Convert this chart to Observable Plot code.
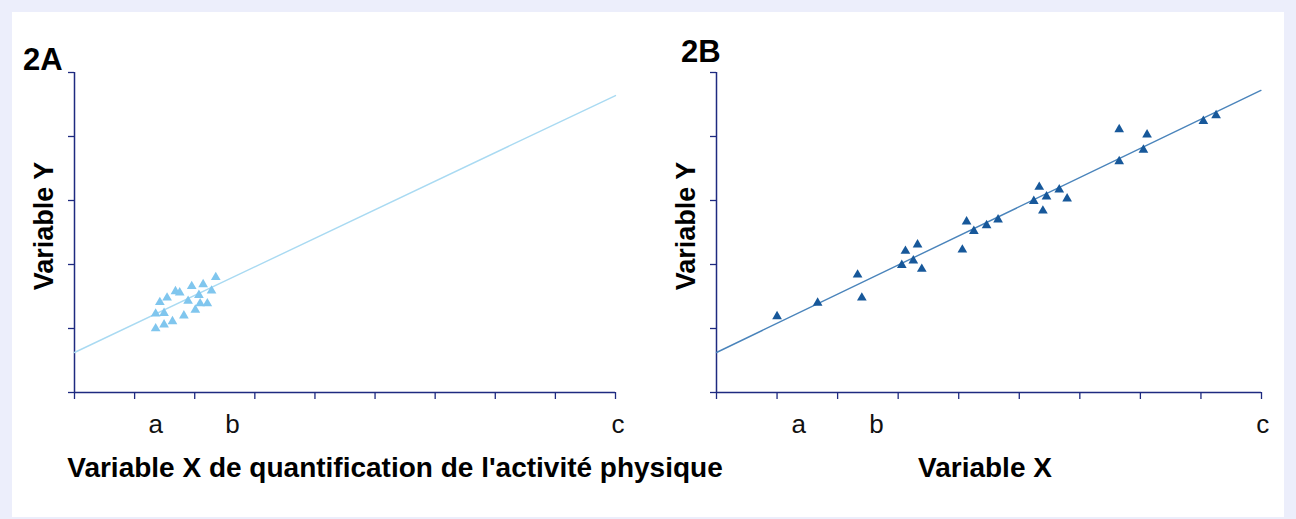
<!DOCTYPE html>
<html>
<head>
<meta charset="utf-8">
<script src="https://cdn.jsdelivr.net/npm/d3@7"></script>
<script src="https://cdn.jsdelivr.net/npm/@observablehq/plot@0.6"></script>
<style>
  html, body { margin: 0; padding: 0; }
  body { width: 1296px; height: 519px; background: #eceefb; position: relative; overflow: hidden; font-family: "Liberation Sans", Arial, sans-serif; }
  #frame { position: absolute; left: 12px; top: 12px; width: 1272px; height: 505px; background: #fff; }
  .panel { position: absolute; top: 0; }
  #overlay { position: absolute; left: 0; top: 0; }
</style>
</head>
<body>
<div id="frame"></div>
<div id="pa" class="panel" style="left:0px"></div>
<div id="pb" class="panel" style="left:648px"></div>
<svg id="overlay" width="1296" height="519"></svg>
<script>
// ---- data ----
const xTicks = [0, 1, 2, 3, 4, 5, 6, 7, 8, 9];
const yTicks = [0, 1, 2, 3, 4, 5];
const tickLabels = ["a", "b", "c"];
const tickLabelPosA = [1.35, 2.63, 9.04];
const tickLabelPosB = [1.36, 2.64, 9.02];

const ax = [2.35, 2.14, 1.95, 2.28, 1.68, 1.75, 2.07, 1.54, 1.42, 1.89, 2.09, 2.21, 2.01, 1.35, 1.49, 1.82, 1.63, 1.49, 1.35];
const ay = [1.80, 1.69, 1.66, 1.59, 1.58, 1.56, 1.52, 1.48, 1.41, 1.43, 1.39, 1.39, 1.29, 1.23, 1.24, 1.20, 1.11, 1.06, 1.00];
const lineAx = [0, 9];
const lineAy = [0.625, 4.64];

const bx = [1.00, 1.67, 2.33, 2.40, 3.12, 3.32, 3.06, 3.25, 3.39, 4.06, 4.13, 4.25, 4.46, 4.65, 6.65, 7.11, 7.05, 6.65, 8.04, 8.25, 5.33, 5.24, 5.45, 5.66, 5.79, 5.39];
const by = [1.19, 1.40, 1.84, 1.48, 2.21, 2.31, 1.99, 2.06, 1.93, 2.23, 2.67, 2.52, 2.61, 2.70, 4.11, 4.03, 3.79, 3.61, 4.24, 4.33, 3.21, 2.99, 3.06, 3.17, 3.03, 2.84];
const lineBx = [0, 8.99];
const lineBy = [0.625, 4.72];

const navy = "#1e2a80";
const font = "'Liberation Sans', Arial, sans-serif";

function panel({px, py, lx, ly, labelPos, dotColor, lineColor, lineWidth, mLeft, mRight}) {
  const pts = px.map((x, i) => ({x, y: py[i]}));
  const ln = lx.map((x, i) => ({x, y: ly[i]}));
  return Plot.plot({
    width: 648, height: 519,
    marginLeft: mLeft, marginRight: mRight, marginTop: 72, marginBottom: 127,
    x: {domain: [0, 9], label: null},
    y: {domain: [0, 5], label: null},
    style: {fontFamily: font, fontSize: "26px", background: "transparent", overflow: "visible"},
    marks: [
      Plot.axisY({ticks: yTicks, tickSize: 6, tickFormat: () => "", label: null, stroke: navy, strokeWidth: 1.3}),
      Plot.axisX({ticks: xTicks, tickSize: 7, tickFormat: () => "", label: null, stroke: navy, strokeWidth: 1.3}),
      Plot.axisX({ticks: labelPos, tickSize: 0, tickPadding: 22, tickFormat: (d, i) => tickLabels[i], label: null, fill: "#111", fontSize: 26}),
      Plot.ruleX([0], {stroke: navy, strokeWidth: 1.5}),
      Plot.ruleY([0], {stroke: navy, strokeWidth: 1.5}),
      Plot.line(ln, {x: "x", y: "y", stroke: lineColor, strokeWidth: lineWidth}),
      Plot.dot(pts, {x: "x", y: "y", symbol: "triangle", r: 3.6, fill: dotColor, stroke: "none"})
    ]
  });
}

document.getElementById("pa").append(panel({px: ax, py: ay, lx: lineAx, ly: lineAy, labelPos: tickLabelPosA,
  dotColor: "#80c6ee", lineColor: "#a9daf2", lineWidth: 1.4, mLeft: 74, mRight: 33}));
document.getElementById("pb").append(panel({px: bx, py: by, lx: lineBx, ly: lineBy, labelPos: tickLabelPosB,
  dotColor: "#17589a", lineColor: "#4a84bb", lineWidth: 1.4, mLeft: 68, mRight: 35}));

const ov = d3.select("#overlay").style("font-family", font).style("font-weight", "bold").attr("fill", "#000");
ov.append("text").attr("x", 23).attr("y", 70).attr("font-size", 31).text("2A");
ov.append("text").attr("x", 681).attr("y", 62).attr("font-size", 31).text("2B");
ov.append("text").attr("transform", "translate(53,226) rotate(-90)").attr("text-anchor", "middle").attr("font-size", 27).text("Variable Y");
ov.append("text").attr("transform", "translate(695,226) rotate(-90)").attr("text-anchor", "middle").attr("font-size", 27).text("Variable Y");
ov.append("text").attr("x", 395).attr("y", 477).attr("text-anchor", "middle").attr("font-size", 28).text("Variable X de quantification de l'activité physique");
ov.append("text").attr("x", 985).attr("y", 477).attr("text-anchor", "middle").attr("font-size", 28).text("Variable X");
</script>
</body>
</html>
